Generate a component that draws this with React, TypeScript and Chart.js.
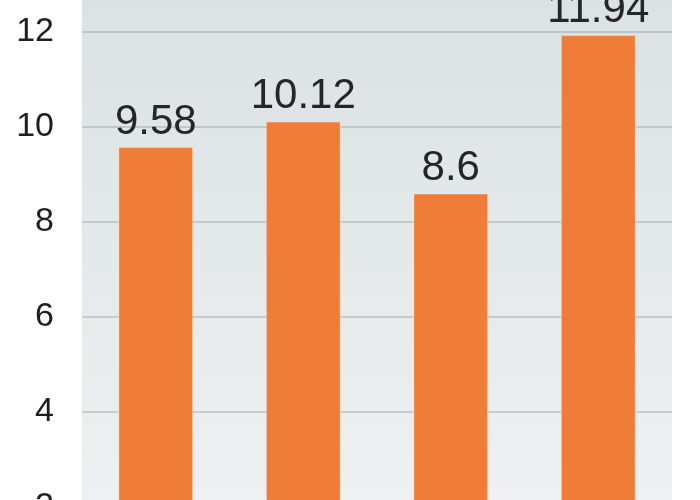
import React, { useEffect, useRef } from "react";
import { Chart, registerables } from "chart.js";

Chart.register(...registerables);

const categories = ["1", "2", "3", "4"];
const values = [9.58, 10.12, 8.6, 11.94];
const tickValues = [0, 2, 4, 6, 8, 10, 12];
const yMin = 0;
const yMax = 13;

const FONT = "'Liberation Sans', Arial, Helvetica, sans-serif";

export default function App() {
  const ref = useRef<HTMLCanvasElement | null>(null);

  useEffect(() => {
    document.body.style.margin = "0";
    const canvas = ref.current!;
    const bgPlugin = {
      id: "bg",
      beforeDraw(chart: any) {
        const { ctx, chartArea, scales } = chart;
        const y = scales.y;
        const g = ctx.createLinearGradient(0, y.getPixelForValue(12.7), 0, y.getPixelForValue(2.1));
        g.addColorStop(0, "#dbe2e4");
        g.addColorStop(1, "#eef0f1");
        ctx.save();
        ctx.fillStyle = g;
        ctx.fillRect(chartArea.left, chartArea.top, chartArea.right - chartArea.left, chartArea.bottom - chartArea.top);
        ctx.restore();
      },
    };
    const labelPlugin = {
      id: "vals",
      afterDatasetsDraw(chart: any) {
        const { ctx } = chart;
        const meta = chart.getDatasetMeta(0);
        ctx.save();
        ctx.font = `42px ${FONT}`;
        ctx.fillStyle = "#262626";
        ctx.textAlign = "center";
        ctx.textBaseline = "alphabetic";
        meta.data.forEach((bar: any, i: number) => {
          ctx.fillText(String(values[i]), bar.x, bar.y - 13);
        });
        ctx.restore();
      },
    };
    const chart = new Chart(canvas, {
      type: "bar",
      data: {
        labels: categories,
        datasets: [
          {
            data: values,
            backgroundColor: "#ef7d38",
            borderColor: "rgba(255,222,195,0.9)",
            borderWidth: 1,
            borderSkipped: "bottom",
            barPercentage: 0.51,
            categoryPercentage: 1,
          },
        ],
      },
      options: {
        animation: false,
        responsive: false,
        maintainAspectRatio: false,
        devicePixelRatio: 1,
        layout: { padding: { left: 16, right: 28, top: 0, bottom: 0 } },
        plugins: { legend: { display: false }, tooltip: { enabled: false } },
        scales: {
          x: { display: false },
          y: {
            min: yMin,
            max: yMax,
            afterBuildTicks(axis: any) {
              axis.ticks = tickValues.map((v) => ({ value: v }));
            },
            afterFit(axis: any) {
              axis.width = 66;
            },
            border: { display: false },
            grid: { color: "rgba(120,140,146,0.32)", lineWidth: 2, drawTicks: false },
            ticks: {
              padding: 28,
              color: "#1e1e1e",
              font: { family: FONT, size: 34 },
            },
          },
        },
      },
      plugins: [bgPlugin, labelPlugin],
    });
    // fit the canvas so that one unit spans 47.5px and align value 12 to y=32
    const area = chart.chartArea;
    const pt = area.top;
    const pb = canvas.height - area.bottom;
    const newH = Math.round(pt + (yMax - yMin) * 47.5 + pb);
    chart.resize(700, newH);
    const off = 32 - chart.scales.y.getPixelForValue(12);
    canvas.style.top = `${off}px`;
    return () => chart.destroy();
  }, []);

  return (
    <div style={{ position: "relative", width: 700, height: 500, overflow: "hidden", background: "#fff" }}>
      <canvas ref={ref} width={700} height={660} style={{ position: "absolute", left: 0, top: 0 }} />
    </div>
  );
}
